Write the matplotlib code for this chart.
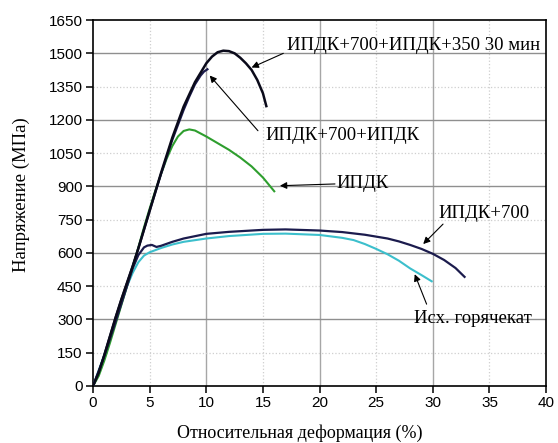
import numpy as np
import matplotlib
matplotlib.use("Agg")
import matplotlib.pyplot as plt
from matplotlib.ticker import MultipleLocator

plt.rcParams['font.family'] = 'Liberation Sans'

# ИПДК+700+ИПДК+350 30 мин
x_350 = [0, 0.5, 1.0, 1.5, 2.0, 2.5, 3.0, 3.5, 4.0, 5.0, 6.0, 7.0, 8.0, 9.0, 10.0,
         10.5, 11.0, 11.5, 12.0, 12.5, 13.0, 13.5, 14.0, 14.5, 15.0, 15.3]
y_350 = [0, 60, 140, 225, 310, 390, 465, 540, 620, 790, 960, 1120, 1260, 1370, 1455,
         1485, 1505, 1512, 1510, 1500, 1480, 1455, 1425, 1380, 1320, 1262]

# ИПДК+700+ИПДК
x_ipdk2 = [0, 0.5, 1.0, 1.5, 2.0, 2.5, 3.0, 3.5, 4.0, 5.0, 6.0, 7.0, 8.0, 8.5, 9.0, 9.5, 9.8, 10.1]
y_ipdk2 = [0, 60, 140, 225, 310, 390, 465, 540, 620, 790, 955, 1110, 1245, 1305, 1360, 1400, 1418, 1428]

# ИПДК
x_ipdk = [0, 0.5, 1.0, 1.5, 2.0, 2.5, 3.0, 3.5, 4.0, 4.5, 5.0, 5.5, 6.0, 6.5, 7.0, 7.5,
          8.0, 8.5, 9.0, 10.0, 11.0, 12.0, 13.0, 14.0, 15.0, 16.0]
y_ipdk = [0, 45, 115, 195, 280, 365, 450, 535, 625, 715, 800, 880, 955, 1025, 1082, 1125,
          1150, 1157, 1152, 1125, 1095, 1065, 1030, 990, 940, 878]

# ИПДК+700
x_700 = [0, 1.0, 2.0, 3.0, 3.5, 4.0, 4.5, 4.8, 5.2, 5.6, 6.0, 7.0, 8.0, 10.0, 12.0, 15.0,
         17.0, 20.0, 22.0, 24.0, 26.0, 27.0, 28.0, 29.0, 30.0, 31.0, 32.0, 32.8]
y_700 = [0, 135, 290, 450, 530, 590, 625, 633, 636, 627, 632, 650, 665, 686, 695, 704,
         706, 701, 694, 682, 665, 652, 636, 618, 596, 568, 532, 492]

# Исх. горячекат
x_hot = [0, 1.0, 2.0, 3.0, 3.5, 4.0, 4.5, 5.0, 6.0, 7.0, 8.0, 10.0, 12.0, 15.0, 17.0,
         20.0, 22.0, 23.0, 24.0, 25.0, 26.0, 27.0, 28.0, 29.0, 29.9]
y_hot = [0, 140, 300, 450, 510, 558, 588, 603, 622, 638, 650, 665, 676, 686, 687,
         681, 668, 658, 640, 618, 594, 565, 530, 500, 472]

fig = plt.figure(figsize=(5.58, 4.43), dpi=100)
ax = fig.add_axes([0.1667, 0.1287, 0.812, 0.826])

ax.plot(x_hot, y_hot, color='#3cbfcc', lw=1.5, zorder=3)
ax.plot(x_700, y_700, color='#1b1b4d', lw=1.6, zorder=4)
ax.plot(x_ipdk, y_ipdk, color='#2e9e2e', lw=1.5, zorder=3)
ax.plot(x_ipdk2, y_ipdk2, color='#1b1b4d', lw=1.6, zorder=4)
ax.plot(x_350, y_350, color='#0a0a1a', lw=1.8, zorder=5)

ax.set_xlim(0, 40)
ax.set_ylim(0, 1650)
ax.xaxis.set_major_locator(MultipleLocator(5))
ax.yaxis.set_major_locator(MultipleLocator(150))

# solid grid every 10 / 300, dotted in between
for gx in range(5, 40, 5):
    if gx % 10 == 0:
        ax.axvline(gx, color='#a6a6a6', lw=1.0, zorder=1)
    else:
        ax.axvline(gx, color='#cfcfcf', lw=0.9, ls=':', zorder=1)
for gy in range(150, 1650, 150):
    if gy % 300 == 0:
        ax.axhline(gy, color='#8f8f8f', lw=1.0, zorder=1)
    else:
        ax.axhline(gy, color='#cfcfcf', lw=0.9, ls=':', zorder=1)

for s in ax.spines.values():
    s.set_linewidth(1.2)
    s.set_color('black')
ax.tick_params(direction='out', length=5, width=1.1, pad=2.5, labelsize=11, colors='black')

serif = 'Liberation Serif'
ax.set_xlabel('Относительная деформация (%)', family=serif, fontsize=13, va='center')
ax.xaxis.set_label_coords(0.457, -0.128)
ax.set_ylabel('Напряжение (МПа)', family=serif, fontsize=13.5, va='center')
ax.yaxis.set_label_coords(-0.159, 0.522)

arrow = dict(arrowstyle='-|>', color='black', lw=0.8, mutation_scale=10, shrinkA=0, shrinkB=0)
labels = [
    ('ИПДК+700+ИПДК+350 30 мин', (17.1, 1535), (16.8, 1500), (14.0, 1436)),
    ('ИПДК+700+ИПДК', (15.2, 1130), (14.56, 1151), (10.3, 1400)),
    ('ИПДК', (21.5, 915), (21.36, 911), (16.5, 903)),
    ('ИПДК+700', (30.5, 780), (30.9, 730), (29.15, 640)),
    ('Исх. горячекат', (28.3, 305), (29.45, 369), (28.4, 504)),
]
for txt, tpos, tail, head in labels:
    ax.text(tpos[0], tpos[1], txt, family=serif, fontsize=13.5, ha='left', va='center', zorder=6)
    ax.annotate('', xy=head, xytext=tail, arrowprops=arrow, zorder=6)

plt.savefig('out.png', dpi=100)
